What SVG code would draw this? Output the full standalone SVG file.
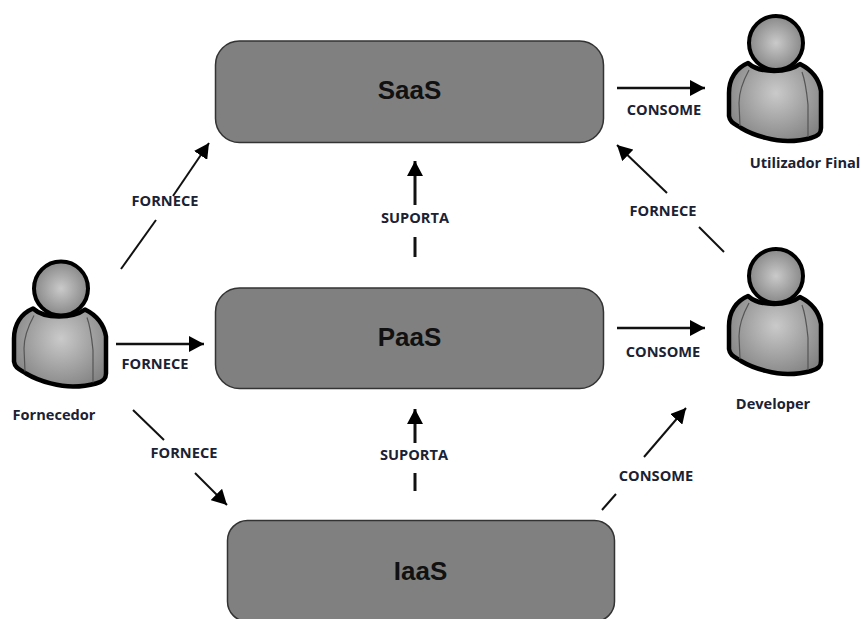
<svg xmlns="http://www.w3.org/2000/svg" width="861" height="619" viewBox="0 0 861 619">
<style>
.box{fill:#808080;stroke:#333;stroke-width:1.5}
.t{font-family:"Liberation Sans",Arial,sans-serif;font-weight:bold;font-size:26px;fill:#111;text-anchor:middle}
.l{font-family:"Open Sans","Noto Sans",sans-serif;font-weight:bold;font-size:14.6px;fill:#1a2233;text-anchor:middle}
.c{stroke:#111;fill:none}
.body{fill:url(#bg);stroke:#000;stroke-width:4.5;stroke-linejoin:round}
.head{fill:url(#hg);stroke:#000;stroke-width:4}
.fold{fill:none;stroke:#555;stroke-width:1.2}
</style>
<defs>
<radialGradient id="bg" gradientUnits="userSpaceOnUse" cx="0" cy="50" r="55"><stop offset="0" stop-color="#cacaca"/><stop offset="1" stop-color="#828282"/></radialGradient>
<radialGradient id="hg" cx="0.5" cy="0.5" r="0.55"><stop offset="0" stop-color="#cacaca"/><stop offset="1" stop-color="#828282"/></radialGradient>
<marker id="a" markerUnits="userSpaceOnUse" markerWidth="18" markerHeight="16" refX="15" refY="8" orient="auto"><path d="M0 0L15 8L0 16Z" fill="#000"/></marker>
<symbol id="person" overflow="visible" viewBox="-60 -40 120 150" width="120" height="150" x="-60" y="-40">
<path class="body" d="M-28 20C-40 25-47 36-47 50L-47 73C-46 80-41 81-35 85C-20 94 0 98 12 98C24 98 28 97 35 95C43 93 45 90 45 85L45 48C43 36 36 27 24 21C12 30-16 31-28 20Z"/>
<circle class="head" cx="0" cy="0" r="27"/>
<path class="fold" d="M-27 27C-33 38-37 50-37 60L-36 83M26 29C30 40 31 52 32 62L32 94"/>
</symbol>
</defs>
<rect width="861" height="619" fill="#fff"/>
<g id="saas"><rect class="box" x="215.500" y="41" width="388" height="101.500" rx="24"/><text class="t" x="409.500" y="99">SaaS</text></g>
<g id="paas"><rect class="box" x="215.500" y="288" width="388" height="100.500" rx="24"/><text class="t" x="409.500" y="346">PaaS</text></g>
<g id="iaas"><rect class="box" x="227.500" y="520.500" width="387" height="101" rx="20"/><text class="t" x="420.500" y="580">IaaS</text></g>
<g id="fornecedor"><use href="#person" transform="translate(61 288.500)"/><text class="l" x="54" y="420">Fornecedor</text></g>
<g id="utilizador"><use href="#person" transform="translate(776 43)"/><text class="l" x="805" y="168">Utilizador Final</text></g>
<g id="developer"><use href="#person" transform="translate(776 276)"/><text class="l" x="773" y="409">Developer</text></g>
<g id="connectors">
<path class="c" stroke-width="2" d="M121 269L156 220"/><path class="c" stroke-width="2" marker-end="url(#a)" d="M173 196L209 143"/>
<path class="c" stroke-width="2.500" marker-end="url(#a)" d="M116 344L204 344"/>
<path class="c" stroke-width="2" d="M133 410L164 440"/><path class="c" stroke-width="2" marker-end="url(#a)" d="M195 473L227 505"/>
<path class="c" stroke-width="3" marker-end="url(#a)" d="M415 205L415 161"/><path class="c" stroke-width="3" d="M415 237L415 257"/>
<path class="c" stroke-width="3" marker-end="url(#a)" d="M415 443L415 409"/><path class="c" stroke-width="3" d="M415 473L415 491"/>
<path class="c" stroke-width="2.500" marker-end="url(#a)" d="M617 88L705 88"/>
<path class="c" stroke-width="2.500" marker-end="url(#a)" d="M617 328L705 328"/>
<path class="c" stroke-width="2" marker-end="url(#a)" d="M667 193L617 145"/><path class="c" stroke-width="2" d="M724 252L699 227"/>
<path class="c" stroke-width="2" marker-end="url(#a)" d="M644 457L686 408"/><path class="c" stroke-width="2" d="M602 510L616 494"/>
<text class="l" x="165" y="206">FORNECE</text>
<text class="l" x="155" y="369">FORNECE</text>
<text class="l" x="184" y="458">FORNECE</text>
<text class="l" x="415" y="223">SUPORTA</text>
<text class="l" x="414" y="460">SUPORTA</text>
<text class="l" x="664" y="115">CONSOME</text>
<text class="l" x="663" y="357">CONSOME</text>
<text class="l" x="663" y="216">FORNECE</text>
<text class="l" x="656" y="481">CONSOME</text>
</g>
</svg>
